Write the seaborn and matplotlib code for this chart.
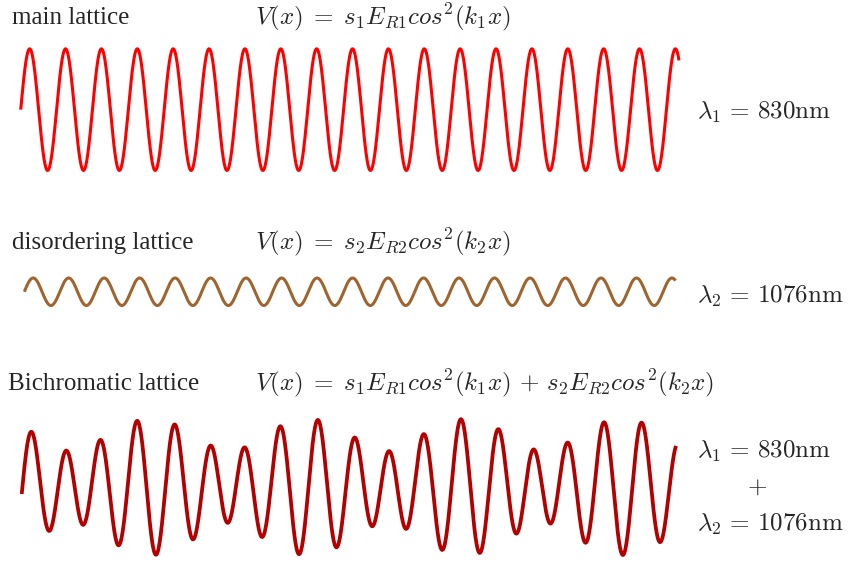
import numpy as np
import pandas as pd
import matplotlib
matplotlib.use("Agg")
import matplotlib.pyplot as plt
import seaborn as sns

# ---- lattice parameters -------------------------------------------------
wavelengths_nm = [830, 1076]           # lambda_1 (main), lambda_2 (disorder)
main_depth = 1.0                       # s1 (main lattice, own panel)
disorder_depth = 0.3                   # s2 (disordering lattice, own panel)
bichro_depths = [1.0, 0.31]            # s1, s2 in the combined lattice
bichro_phase = -0.725                  # relative phase of the second lattice
# x ranges in units of main-lattice sites (lambda_1 / 2)
main_sites = (-0.25, 18.1)
disorder_sites = (-0.25, 18.1)
bichro_sites = (-0.23, 17.98)

panel_titles = ["main lattice", "disordering lattice", "Bichromatic lattice"]
panel_formulas = [
    r"$V(x) \;=\; s_1 E_{R1} cos^2(k_1 x)$",
    r"$V(x) \;=\; s_2 E_{R2} cos^2(k_2 x)$",
    r"$V(x) \;=\; s_1 E_{R1} cos^2(k_1 x) \,+\, s_2 E_{R2} cos^2(k_2 x)$",
]
wavelength_labels = [r"$\lambda_1 \,=\, 830\mathrm{nm}$",
                     r"$\lambda_2 \,=\, 1076\mathrm{nm}$"]
colors = ["#FF0000", "#A0652F", "#B30000"]

# ---- style ---------------------------------------------------------------
sns.set_style("white")
plt.rcParams["mathtext.fontset"] = "cm"
plt.rcParams["font.family"] = ["Liberation Serif", "DejaVu Serif"]

W, H = 848, 562
fig = plt.figure(figsize=(W / 100, H / 100), dpi=100)


def panel(left, right, top, bottom, xlim, ylim):
    ax = fig.add_axes([left / W, 1 - bottom / H, (right - left) / W, (bottom - top) / H])
    ax.set_xlim(*xlim)
    ax.set_ylim(*ylim)
    ax.axis("off")
    return ax


def lattice(sites, depth, ratio=1.0, phase=0.0):
    x = np.linspace(sites[0], sites[1], 3000)
    return x, depth * np.cos(np.pi * x * ratio + phase) ** 2


# main lattice
x1, v1 = lattice(main_sites, main_depth)
df1 = pd.DataFrame({"x": x1, "V": v1})
ax1 = panel(20.7, 679, 48.8, 170.5, main_sites, (0, main_depth))
sns.lineplot(data=df1, x="x", y="V", ax=ax1, color=colors[0], linewidth=2.2,
             sort=False, clip_on=False, solid_capstyle="butt")

# disordering lattice
x2, v2 = lattice(disorder_sites, disorder_depth)
df2 = pd.DataFrame({"x": x2, "V": v2})
ax2 = panel(24.3, 675.5, 278, 305.5, disorder_sites, (0, disorder_depth))
sns.lineplot(data=df2, x="x", y="V", ax=ax2, color=colors[1], linewidth=2.2,
             sort=False, clip_on=False, solid_capstyle="butt")

# bichromatic lattice
x3 = np.linspace(bichro_sites[0], bichro_sites[1], 3000)
ratio = wavelengths_nm[0] / wavelengths_nm[1]
v3 = (bichro_depths[0] * np.cos(np.pi * x3) ** 2
      + bichro_depths[1] * np.cos(np.pi * x3 * ratio + bichro_phase) ** 2)
df3 = pd.DataFrame({"x": x3, "V": v3})
ax3 = panel(21.7, 676, 419, 555, bichro_sites, (0, sum(bichro_depths)))
sns.lineplot(data=df3, x="x", y="V", ax=ax3, color=colors[2], linewidth=2.7,
             sort=False, clip_on=False, solid_capstyle="butt")

# ---- labels --------------------------------------------------------------
fs = 18


def put(x, y, s, **kw):
    fig.text(x / W, 1 - y / H, s, fontsize=fs, va="center", ha="left", **kw)


put(12, 18, panel_titles[0])
put(255, 17, panel_formulas[0])
put(697, 112, wavelength_labels[0])

put(12, 243, panel_titles[1])
put(255, 242, panel_formulas[1])
put(697, 296, wavelength_labels[1])

put(8, 384, panel_titles[2])
put(255, 383, panel_formulas[2])
put(697, 451, wavelength_labels[0])
fig.text(757 / W, 1 - 488 / H, r"$+$", fontsize=fs, va="center", ha="center")
put(697, 524, wavelength_labels[1])

fig.savefig("out.png", dpi=100)
